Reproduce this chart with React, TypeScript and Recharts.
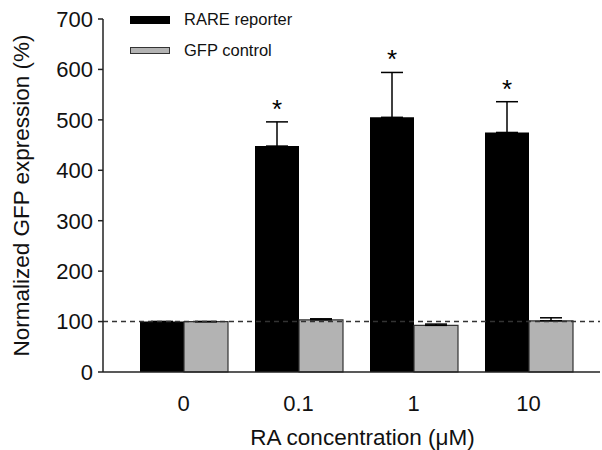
import React from "react";
import {
  Bar,
  BarChart,
  ErrorBar,
  LabelList,
  Legend,
  ReferenceLine,
  XAxis,
  YAxis,
} from "recharts";

const categories = ["0", "0.1", "1", "10"];
const rareMean = [100, 448, 505, 475];
const rareErr = [0, 48, 89, 61];
const gfpMean = [100, 103.5, 92.5, 101.5];
const gfpErr = [0, 2, 2.5, 6];
const significant = [false, true, true, true];
const yTicks = [0, 100, 200, 300, 400, 500, 600, 700];

const FONT = "'Liberation Sans', Arial, Helvetica, sans-serif";
const GRAY = "#b3b3b3";

const data = categories.map((c, i) => ({
  conc: c,
  rare: rareMean[i],
  rareErr: [0, rareErr[i]],
  gfp: gfpMean[i],
  gfpErr: [0, gfpErr[i]],
}));

function Star(props: any) {
  const { x, y, width, height, index, value } = props;
  if (!significant[index]) return null;
  const perUnit = height / value;
  const top = y - rareErr[index] * perUnit;
  return (
    <text
      x={x + width / 2}
      y={top - 4}
      textAnchor="middle"
      fontSize={26}
      fontFamily={FONT}
      fill="#000"
    >
      *
    </text>
  );
}

function LegendBox() {
  const row: React.CSSProperties = {
    display: "flex",
    alignItems: "center",
    height: 31,
    fontFamily: FONT,
    fontSize: 16.5,
    color: "#111",
  };
  return (
    <div>
      <div style={row}>
        <span
          style={{ width: 40, height: 8, background: "#000", marginRight: 14 }}
        />
        RARE reporter
      </div>
      <div style={row}>
        <span
          style={{
            width: 38,
            height: 5,
            background: GRAY,
            border: "1px solid #333",
            marginRight: 14,
          }}
        />
        GFP control
      </div>
    </div>
  );
}

export default function App() {
  return (
    <div style={{ position: "absolute", left: 0, top: 0 }}>
      <BarChart
        width={602}
        height={450}
        data={data}
        margin={{ top: 19, right: 2, left: 0, bottom: 0 }}
        barGap={0}
        barSize={44}
      >
        <XAxis
          dataKey="conc"
          height={78}
          padding={{ left: 23, right: 14 }}
          tickLine={false}
          tickSize={0}
          tickMargin={23}
          axisLine={{ stroke: "#222", strokeWidth: 1.5 }}
          tick={{ fontSize: 22, fill: "#111", fontFamily: FONT }}
          label={{
            value: "RA concentration (\u03bcM)",
            position: "center",
            dy: 26,
            dx: 11,
            fontSize: 22.5,
            fill: "#111",
            fontFamily: FONT,
          }}
        />
        <YAxis
          width={103}
          domain={[0, 700]}
          ticks={yTicks}
          interval={0}
          tickSize={5}
          tickMargin={5}
          axisLine={{ stroke: "#222", strokeWidth: 1.5 }}
          tickLine={{ stroke: "#222", strokeWidth: 1.5 }}
          tick={{ fontSize: 22, fill: "#111", fontFamily: FONT }}
          label={{
            value: "Normalized GFP expression (%)",
            angle: -90,
            position: "center",
            dx: -30,
            fontSize: 22.5,
            fill: "#111",
            fontFamily: FONT,
          }}
        />
        <Legend
          layout="vertical"
          align="center"
          verticalAlign="middle"
          wrapperStyle={{ left: 130, top: 4, width: 200 }}
          content={() => <LegendBox />}
        />
        <Bar dataKey="rare" fill="#000" isAnimationActive={false}>
          <ErrorBar
            dataKey="rareErr"
            direction="y"
            width={11}
            stroke="#000"
            strokeWidth={1.5}
          />
          <LabelList dataKey="rare" content={Star} />
        </Bar>
        <Bar
          dataKey="gfp"
          fill={GRAY}
          stroke="#333"
          strokeWidth={1.2}
          isAnimationActive={false}
        >
          <ErrorBar
            dataKey="gfpErr"
            direction="y"
            width={11}
            stroke="#000"
            strokeWidth={1.5}
          />
        </Bar>
        <ReferenceLine
          y={100}
          stroke="#333"
          strokeWidth={1.5}
          strokeDasharray="5 4"
        />
      </BarChart>
    </div>
  );
}
